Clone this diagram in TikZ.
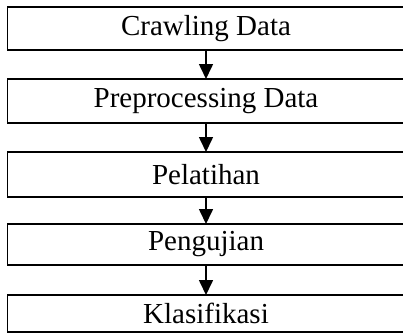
\documentclass[tikz,border=0pt]{standalone}
\usepackage{fontspec}
\setmainfont{Liberation Serif}
\usetikzlibrary{arrows.meta}
\tikzset{
	stepbox/.style={draw, line width=1.2pt, minimum width=397pt, inner sep=0, outer sep=0,
		font=\fontsize{29}{34}\selectfont},
}
\begin{document}
\begin{tikzpicture}[x=1pt, y=-1pt, ->, >={Triangle[width=14pt,length=15pt]}, line width=1.6pt]
	\useasboundingbox (0,0) rectangle (403,333);
	\clip (0,0) rectangle (403,333);
	\node[stepbox, minimum height=43pt] (crawl) at (206, 28.5) {Crawling Data};
	\node[stepbox, minimum height=44pt] (prep) at (206, 101) {Preprocessing Data};
	\node[stepbox, minimum height=45pt] (train) at (206, 174.5) {Pelatihan};
	\node[stepbox, minimum height=41pt] (test) at (206, 244.5) {Pengujian};
	\node[stepbox, minimum height=37pt] (class) at (206, 313.5) {Klasifikasi};
	\draw (crawl) -- (prep);
	\draw (prep) -- (train);
	\draw (train) -- (test);
	\draw (test) -- (class);
\end{tikzpicture}
\end{document}
